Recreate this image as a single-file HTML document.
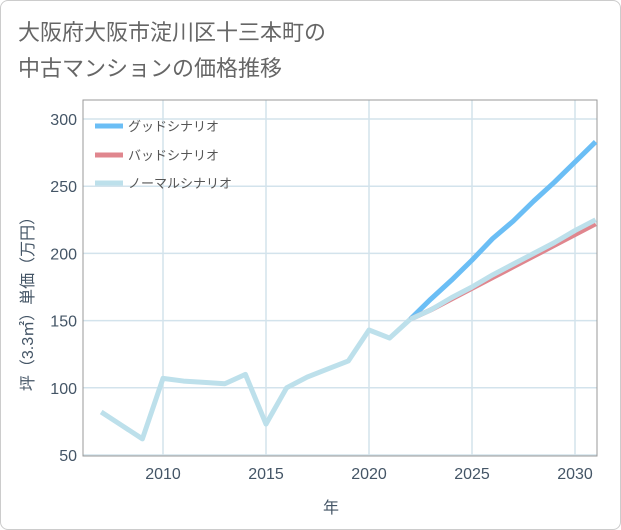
<!DOCTYPE html>
<html><head><meta charset="utf-8"><style>
body{margin:0;background:#fff;font-family:"Liberation Sans","Noto Sans CJK JP",sans-serif}
.card{position:absolute;left:0;top:0;width:619px;height:528px;border:1px solid #ccc;border-radius:8px;background:#fff}
</style></head><body>
<div class="card">
<svg width="621" height="530" style="position:absolute;left:-1px;top:-1px">
<text x="18" y="40" font-size="22" fill="#666">大阪府大阪市淀川区十三本町の</text>
<text x="18" y="76" font-size="22" fill="#666">中古マンションの価格推移</text>
<g id="grid"></g>
<rect x="83" y="100" width="514" height="356" fill="none" stroke="#999"/>
<g id="ticks"></g>
<g id="series"></g>
<text x="331" y="513" font-size="16" fill="#456" text-anchor="middle">年</text>
<text transform="translate(33,300) rotate(-90)" font-size="16" fill="#456" text-anchor="middle">坪（3.3㎡）単価（万円）</text>
<g>
<line x1="95" y1="126" x2="123" y2="126" stroke="#6bbef5" stroke-width="5"/>
<text x="128" y="131" font-size="13" fill="#555">グッドシナリオ</text>
<line x1="95" y1="155" x2="123" y2="155" stroke="#e0868e" stroke-width="5"/>
<text x="128" y="160" font-size="13" fill="#555">バッドシナリオ</text>
<line x1="95" y1="183" x2="123" y2="183" stroke="#bde0eb" stroke-width="5"/>
<text x="128" y="188" font-size="13" fill="#555">ノーマルシナリオ</text>
</g>
</svg>
</div>
<script>
const yTicks=[50,100,150,200,250,300];
const xTicks=[2010,2015,2020,2025,2030];
const histYears=[2007,2008,2009,2010,2011,2012,2013,2014,2015,2016,2017,2018,2019,2020,2021,2022];
const histVals=[82,72,62,107,105,104,103,110,73,100,108,114,120,143,137,151];
const fcYears=[2022,2023,2024,2025,2026,2027,2028,2029,2030,2031];
const goodVals=[151,166,180,195,211,224,239,253,268,283];
const badVals=[151,158,166,174,182,190,198,206,214,222];
const normalVals=[151,158,167,175,184,192,200,208,217,225];
const X=yr=>163+(yr-2010)*20.6;
const Y=v=>455-(v-50)*1.344;
const NS="http://www.w3.org/2000/svg";
function mk(tag,attrs,parent){const e=document.createElementNS(NS,tag);for(const k in attrs)e.setAttribute(k,attrs[k]);document.getElementById(parent).appendChild(e);return e;}
yTicks.forEach(v=>{
 const l=mk('line',{x1:83,x2:597,y1:Y(v),y2:Y(v),stroke:'#d3e3ec','stroke-width':1.5},'grid');
 
 
 const t=mk('text',{x:77,y:Y(v)+6,'font-size':16,fill:'#456','text-anchor':'end'},'ticks');
 t.textContent=v;
 
 
});
xTicks.forEach(v=>{
 const l=mk('line',{x1:X(v),x2:X(v),y1:100,y2:456,stroke:'#d3e3ec','stroke-width':1.5},'grid');
 
 
 const t=mk('text',{x:X(v),y:479,'font-size':16,fill:'#456','text-anchor':'middle'},'ticks');
 t.textContent=v;
 
 
});
function line(years,vals,color,name){
 const p=mk('polyline',{points:years.map((y,i)=>X(y)+','+Y(vals[i])).join(' '),fill:'none',stroke:color,'stroke-width':5,'stroke-linejoin':'round'},'series');
 
 
}
line(fcYears,goodVals,'#6bbef5','good-scenario-line');
line(fcYears,badVals,'#e0868e','bad-scenario-line');
line(fcYears,normalVals,'#bde0eb','normal-scenario-line');
line(histYears,histVals,'#bde0eb','history-line');
</script>
</body></html>
